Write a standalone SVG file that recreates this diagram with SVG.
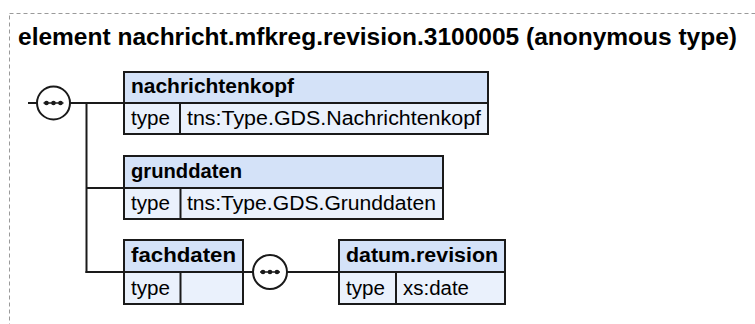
<svg xmlns="http://www.w3.org/2000/svg" width="755" height="324" viewBox="0 0 755 324">
<defs>
<style>
.frame{fill:none;stroke:#9a9a9a;stroke-width:1;stroke-dasharray:4,3}
.title{font-family:"Liberation Sans",Arial,sans-serif;font-weight:bold;font-size:23px;fill:#000}
.hdr{fill:#d4e2f8;stroke:#1a1a1a;stroke-width:2}
.row{fill:#eaf1fc;stroke:#1a1a1a;stroke-width:2}
.ln{stroke:#1a1a1a;stroke-width:2;fill:none}
.nm{font-family:"Liberation Sans",Arial,sans-serif;font-weight:bold;font-size:20px;fill:#000}
.tx{font-family:"Liberation Sans",Arial,sans-serif;font-size:20px;fill:#000}
.seq{fill:#fff;stroke:#1a1a1a;stroke-width:2}
</style>
<g id="seqsym">
<line x1="-10" y1="0" x2="10" y2="0" stroke="#1a1a1a" stroke-width="1.5"/>
<circle cx="-7" cy="0" r="2.3" fill="#1a1a1a"/>
<circle cx="0" cy="0" r="2.3" fill="#1a1a1a"/>
<circle cx="7" cy="0" r="2.3" fill="#1a1a1a"/>
</g>
</defs>
<rect class="frame" x="9.5" y="13.5" width="800" height="400"/>
<text class="title" x="18" y="45" textLength="719" lengthAdjust="spacingAndGlyphs">element nachricht.mfkreg.revision.3100005 (anonymous type)</text>

<g id="connectors">
<line class="ln" x1="28" y1="103" x2="37" y2="103"/>
<line class="ln" x1="70" y1="103" x2="124" y2="103"/>
<line class="ln" x1="86.5" y1="103" x2="86.5" y2="273"/>
<line class="ln" x1="86.5" y1="188" x2="124" y2="188"/>
<line class="ln" x1="85.5" y1="272" x2="124" y2="272"/>
<line class="ln" x1="243" y1="272" x2="253" y2="272"/>
<line class="ln" x1="287" y1="272" x2="339" y2="272"/>
</g>

<g id="seq1">
<circle class="seq" cx="53.5" cy="103" r="16.5"/>
<use href="#seqsym" x="53.5" y="103"/>
</g>
<g id="seq2">
<circle class="seq" cx="270" cy="272" r="17"/>
<use href="#seqsym" x="270" y="272"/>
</g>

<g id="nachrichtenkopf">
<rect class="hdr" x="124" y="72" width="364" height="31"/>
<rect class="row" x="124" y="103" width="364" height="31"/>
<line class="ln" x1="180" y1="103" x2="180" y2="134"/>
<text class="nm" x="131" y="93" textLength="163" lengthAdjust="spacingAndGlyphs">nachrichtenkopf</text>
<text class="tx" x="131" y="125" textLength="39" lengthAdjust="spacingAndGlyphs">type</text>
<text class="tx" x="187" y="125" textLength="294" lengthAdjust="spacingAndGlyphs">tns:Type.GDS.Nachrichtenkopf</text>
</g>

<g id="grunddaten">
<rect class="hdr" x="124" y="156" width="319" height="32"/>
<rect class="row" x="124" y="188" width="319" height="31"/>
<line class="ln" x1="180.5" y1="188" x2="180.5" y2="219"/>
<text class="nm" x="131" y="178" textLength="111" lengthAdjust="spacingAndGlyphs">grunddaten</text>
<text class="tx" x="131" y="210" textLength="39" lengthAdjust="spacingAndGlyphs">type</text>
<text class="tx" x="187" y="210" textLength="249" lengthAdjust="spacingAndGlyphs">tns:Type.GDS.Grunddaten</text>
</g>

<g id="fachdaten">
<rect class="hdr" x="124" y="240" width="119" height="32"/>
<rect class="row" x="124" y="272" width="119" height="32"/>
<line class="ln" x1="180.5" y1="272" x2="180.5" y2="304"/>
<text class="nm" x="131" y="262" textLength="105" lengthAdjust="spacingAndGlyphs">fachdaten</text>
<text class="tx" x="131" y="295" textLength="39" lengthAdjust="spacingAndGlyphs">type</text>
</g>

<g id="datum.revision">
<rect class="hdr" x="339" y="240" width="166" height="32"/>
<rect class="row" x="339" y="272" width="166" height="32"/>
<line class="ln" x1="396" y1="272" x2="396" y2="304"/>
<text class="nm" x="346" y="262" textLength="152" lengthAdjust="spacingAndGlyphs">datum.revision</text>
<text class="tx" x="346" y="295" textLength="39" lengthAdjust="spacingAndGlyphs">type</text>
<text class="tx" x="403" y="295" textLength="66" lengthAdjust="spacingAndGlyphs">xs:date</text>
</g>
</svg>
